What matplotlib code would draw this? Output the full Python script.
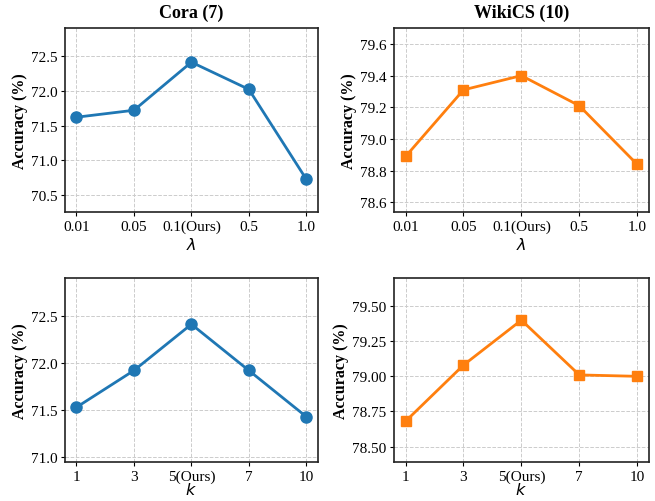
import matplotlib
matplotlib.use("Agg")
import matplotlib.pyplot as plt

# -----------------------------
# Data
# -----------------------------
lam_labels = ["0.01", "0.05", "0.1(Ours)", "0.5", "1.0"]
k_labels = ["1", "3", "5(Ours)", "7", "10"]

cora_lam = [71.62, 71.72, 72.41, 72.02, 70.73]
wikics_lam = [78.89, 79.31, 79.40, 79.21, 78.84]
cora_k = [71.53, 71.92, 72.41, 71.92, 71.43]
wikics_k = [78.68, 79.08, 79.40, 79.01, 79.00]

blue = "#1f77b4"
orange = "#ff7f0e"

plt.rcParams["font.family"] = ["Liberation Serif", "DejaVu Serif"]
plt.rcParams["mathtext.fontset"] = "dejavusans"

fig = plt.figure(figsize=(6.55, 5.02), dpi=100)

# -----------------------------
# Panels
# -----------------------------
panels = [
    # (rect, values, labels, color, marker, xlabel, label y, title, ylim, yticks)
    ([0.0992, 0.5757, 0.386, 0.3665], cora_lam, lam_labels, blue, "o",
     r"$\lambda$", -0.137, "Cora (7)", (70.26, 72.9), [70.5, 71.0, 71.5, 72.0, 72.5]),
    ([0.6015, 0.5757, 0.389, 0.3665], wikics_lam, lam_labels, orange, "s",
     r"$\lambda$", -0.137, "WikiCS (10)", (78.54, 79.7), [78.6, 78.8, 79.0, 79.2, 79.4, 79.6]),
    ([0.0992, 0.0777, 0.386, 0.3665], cora_k, k_labels, blue, "o",
     r"$k$", -0.107, None, (70.95, 72.9), [71.0, 71.5, 72.0, 72.5]),
    ([0.6015, 0.0777, 0.389, 0.3665], wikics_k, k_labels, orange, "s",
     r"$k$", -0.107, None, (78.39, 79.7), [78.5, 78.75, 79.0, 79.25, 79.5]),
]

for rect, vals, labels, color, marker, xlab, xlab_y, title, ylim, yticks in panels:
    ax = fig.add_axes(rect)
    x = range(len(vals))
    ax.plot(x, vals, marker=marker, color=color, lw=2,
            ms=8 if marker == "o" else 7.5)
    ax.set_xticks(list(x))
    ax.set_xticklabels(labels, fontsize=11)
    ax.set_xlim(-0.2, len(vals) - 0.8)
    ax.set_ylim(*ylim)
    ax.set_yticks(yticks)
    if yticks[1] - yticks[0] == 0.25:
        ax.set_yticklabels([f"{v:.2f}" for v in yticks], fontsize=11)
    else:
        ax.set_yticklabels([f"{v:.1f}" for v in yticks], fontsize=11)
    ax.tick_params(length=3, width=0.8, pad=2.5)
    ax.set_xlabel(xlab, fontsize=11.5)
    ax.xaxis.set_label_coords(0.5, xlab_y)
    ax.set_ylabel("Accuracy (%)", fontsize=11.5, fontweight="bold", labelpad=2)
    if title:
        ax.set_title(title, fontsize=13, fontweight="bold", pad=8)
    ax.grid(True, linestyle="--", color="#cccccc", lw=0.7)
    for s in ax.spines.values():
        s.set_linewidth(1.2)
        s.set_color("#222222")

fig.savefig("out.png", dpi=100)
